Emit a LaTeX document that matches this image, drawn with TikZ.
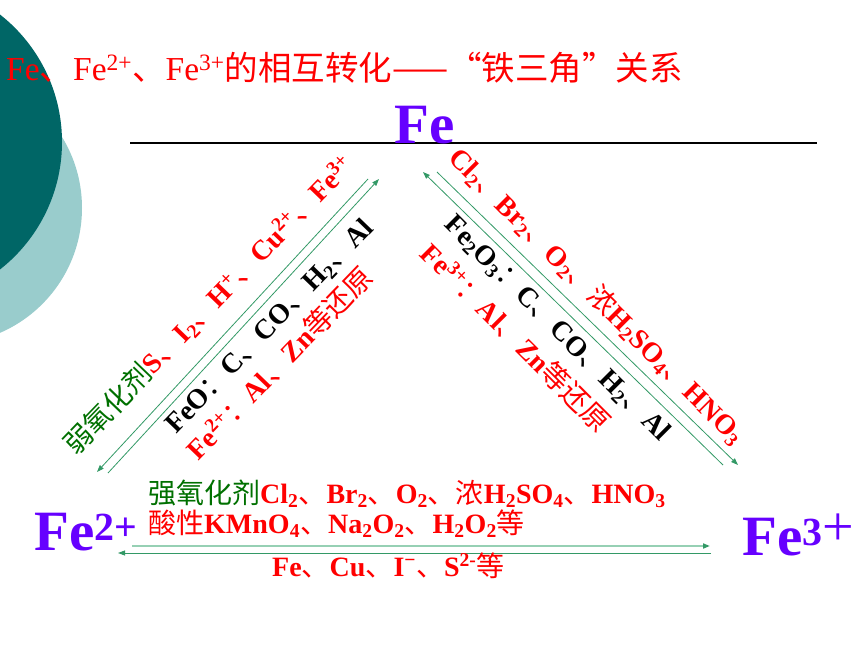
\documentclass[tikz,border=0pt]{standalone}
\usepackage{fontspec}
\setmainfont{Liberation Serif}
\newfontfamily\cjk{Noto Sans CJK SC}
\usetikzlibrary{arrows.meta}
\definecolor{ironred}{RGB}{255,0,0}
\definecolor{irongreen}{RGB}{0,112,0}
\definecolor{ironviolet}{RGB}{102,0,255}
\definecolor{arrowgreen}{RGB}{51,153,102}
\definecolor{arrowlight}{RGB}{150,208,180}
\definecolor{tealdark}{RGB}{0,102,102}
\definecolor{teallight}{RGB}{153,204,204}
\newcommand\zh[1]{{\cjk\mdseries #1}}
\newcommand\sub[1]{\textsubscript{#1}}
\newcommand\super[1]{\textsuperscript{#1}}

\begin{document}
\begin{tikzpicture}[x=1pt,y=-1pt,
    ion/.style={text=ironviolet,font=\fontsize{57}{60}\selectfont\bfseries,inner sep=0pt,anchor=base west},
    agent/.style={font=\fontsize{28}{30}\selectfont\bfseries,inner sep=0pt},
    link/.style={arrowgreen,line width=0.8pt,-{Triangle[length=7pt,width=5pt]}}]
    \useasboundingbox (0,0) rectangle (860,645);
    % background disks
    \fill[teallight] (-54,208) circle[radius=136];
    \fill[tealdark] (-100,142) circle[radius=162];
    \node[anchor=base west,text=ironred,font=\fontsize{33.5}{35}\selectfont,inner sep=0pt] (title) at (6,80)
      {Fe\zh{、}Fe\super{2+}\zh{、}Fe\super{3+}\zh{的相互转化——“铁三角”关系}};
    \draw[line width=1.5pt] (130,143) -- (817,143);
    \node[ion] (Fe) at (394,143) {Fe};
    \node[ion] (FeII) at (34,550) {Fe\super{2+}};
    \node[ion] (FeIII) at (742,555) {Fe\super{3{\mdseries\fontsize{56}{56}\selectfont+}}};
    \coordinate (l1a) at (368,179);
    \coordinate (l1b) at (97,472);
    \coordinate (l2a) at (108,473);
    \coordinate (l2b) at (379,179);
    \coordinate (r1a) at (723,465);
    \coordinate (r1b) at (423,172);
    \coordinate (r2a) at (437,172);
    \coordinate (r2b) at (738,465);
    \coordinate (b1a) at (132,546);
    \coordinate (b1b) at (710,546);
    \coordinate (b2a) at (711,553);
    \coordinate (b2b) at (118,553);
    \draw[link] (l1a) -- (l1b);
    \draw[link] (l2a) -- (l2b);
    \draw[link] (r1a) -- (r1b);
    \draw[link] (r2a) -- (r2b);
    \draw[link,arrowlight,line width=2pt,-{Triangle[length=7pt,width=5pt,color=arrowgreen]}] (b1a) -- (b1b);
    \draw[link] (b2a) -- (b2b);
    % Fe2+ <-> Fe
    \node[agent,rotate=46,text=ironred] (weak) at (209,305)
      {{\color{irongreen}\zh{弱氧化剂}}S\zh{、}I\sub{2}\zh{、}H\super{+}\zh{、}Cu\super{2+}\zh{、}Fe\super{3+}};
    \node[agent,rotate=46] (feo) at (270,327) {FeO\zh{：}C\zh{、}CO\zh{、}H\sub{2}\zh{、}Al};
    \node[agent,rotate=46,text=ironred] (feIIred) at (279,363) {Fe\super{2+}\zh{：}Al\zh{、}Zn\zh{等还原}};
    % Fe <-> Fe3+
    \node[agent,rotate=-45,text=ironred] (strongR) at (597,296)
      {Cl\sub{2}\zh{、}Br\sub{2}\zh{、}O\sub{2}\zh{、浓}H\sub{2}SO\sub{4}\zh{、}HNO\sub{3}};
    \node[agent,rotate=-45] (fe2o3) at (557,329) {Fe\sub{2}O\sub{3}\zh{：}C\zh{、}CO\zh{、}H\sub{2}\zh{、}Al};
    \node[agent,rotate=-45,text=ironred] (feIIIred) at (516,337) {Fe\super{3+}\zh{：}Al\zh{、}Zn\zh{等还原}};
    % Fe2+ <-> Fe3+
    \node[agent,anchor=base west,text=ironred] (strong) at (148,503)
      {{\color{irongreen}\zh{强氧化剂}}Cl\sub{2}\zh{、}Br\sub{2}\zh{、}O\sub{2}\zh{、浓}H\sub{2}SO\sub{4}\zh{、}HNO\sub{3}};
    \node[agent,anchor=base west,text=ironred] (acid) at (148,533)
      {\zh{酸性}KMnO\sub{4}\zh{、}Na\sub{2}O\sub{2}\zh{、}H\sub{2}O\sub{2}\zh{等}};
    \node[agent,anchor=base west,text=ironred] (reduce) at (272,576)
      {Fe\zh{、}Cu\zh{、}I\super{−}\zh{、}S\super{2-}\zh{等}};
\end{tikzpicture}
\end{document}
